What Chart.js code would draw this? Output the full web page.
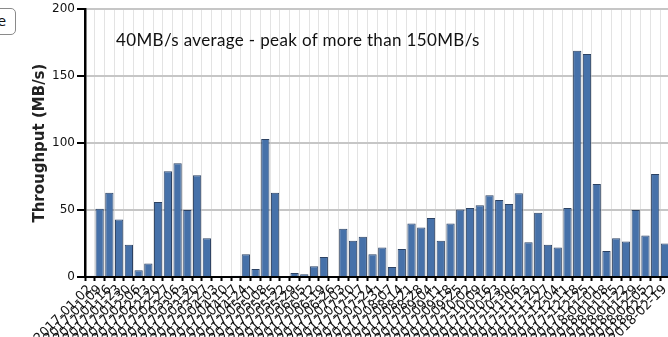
<!DOCTYPE html>
<html>
<head>
<meta charset="utf-8">
<script src="https://cdn.jsdelivr.net/npm/chart.js@4/dist/chart.umd.min.js"></script>
<style>
  html, body { margin: 0; padding: 0; background: #fff; overflow: hidden; }
  #wrap { position: relative; width: 668px; height: 337px; overflow: hidden; }
  #box { position: absolute; left: 0; top: 0; width: 677px; height: 337px; }
  .btn {
    position: absolute; left: -35px; top: 8px; width: 40px; height: 25px;
    border: 1.5px solid #8a8a8a; border-radius: 5px; background: #fff;
    font: 14px "DejaVu Sans", sans-serif; line-height: 25px; text-align: right;
    padding-right: 9px; color: #111;
  }
  .note {
    position: absolute; left: 116px; top: 29px; white-space: nowrap;
    font: 17px Lato, sans-serif; color: #111; letter-spacing: 0.35px;
  }
</style>
</head>
<body>
<div id="wrap">
  <div id="box"><canvas id="throughputChart" width="677" height="337"></canvas></div>
  <div class="btn">Save</div>
  <div class="note">40MB/s average - peak of more than 150MB/s</div>
</div>
<script>
// weekly throughput figures
var weeks = [
  "2017-01-02", "2017-01-09", "2017-01-16", "2017-01-23", "2017-01-30",
  "2017-02-06", "2017-02-13", "2017-02-20", "2017-02-27", "2017-03-06",
  "2017-03-13", "2017-03-20", "2017-03-27", "2017-04-03", "2017-04-10",
  "2017-04-17", "2017-04-24", "2017-05-01", "2017-05-08", "2017-05-15",
  "2017-05-22", "2017-05-29", "2017-06-05", "2017-06-12", "2017-06-19",
  "2017-06-26", "2017-07-03", "2017-07-10", "2017-07-17", "2017-07-24",
  "2017-07-31", "2017-08-07", "2017-08-14", "2017-08-21", "2017-08-28",
  "2017-09-04", "2017-09-11", "2017-09-18", "2017-09-25", "2017-10-02",
  "2017-10-09", "2017-10-16", "2017-10-23", "2017-10-30", "2017-11-06",
  "2017-11-13", "2017-11-20", "2017-11-27", "2017-12-04", "2017-12-11",
  "2017-12-18", "2017-12-25", "2018-01-01", "2018-01-08", "2018-01-15",
  "2018-01-22", "2018-01-29", "2018-02-05", "2018-02-12", "2018-02-19"
];

var throughput = [
  1, 51, 63, 43, 24, 5, 10, 56, 79, 85,
  50, 76, 29, 0, 0, 1, 17, 6, 103, 63,
  0, 3, 2, 8, 15, 0, 36, 27, 30, 17,
  22, 7.5, 21, 40, 37, 44, 27, 40, 50.5, 51.5,
  53.5, 61, 57.5, 54.5, 62.5, 26, 48, 24, 22, 51.5,
  169, 166.5, 69.5, 19.5, 29, 26.5, 50, 31, 77, 25
];

var yTicks = [0, 50, 100, 150, 200];

var ctx = document.getElementById("throughputChart").getContext("2d");
var chart = new Chart(ctx, {
  type: "bar",
  data: {
    labels: weeks,
    datasets: [{
      label: "Throughput",
      data: throughput,
      backgroundColor: "#4671a9",
      borderColor: "#2c4263",
      borderWidth: 1,
      barPercentage: 0.85,
      categoryPercentage: 1.0
    }]
  },
  options: {
    responsive: false,
    animation: false,
    devicePixelRatio: 1,
    layout: { padding: { left: 0, right: 2, top: 4, bottom: 0 } },
    plugins: {
      legend: { display: false },
      tooltip: { enabled: false }
    },
    scales: {
      x: {
        afterFit: function (scale) { scale.height = 60; },
        grid: {
          color: "#e3e3e3",
          lineWidth: 1,
          tickColor: "#000",
          tickWidth: 2,
          tickLength: 4
        },
        border: { color: "#000", width: 2 },
        ticks: {
          autoSkip: false,
          maxRotation: 45,
          minRotation: 45,
          padding: 1,
          color: "#111",
          font: { family: "DejaVu Sans", size: 13 }
        }
      },
      y: {
        min: 0,
        max: 200,
        afterFit: function (scale) { scale.width = 85; },
        afterBuildTicks: function (scale) {
          scale.ticks = yTicks.map(function (v) { return { value: v }; });
        },
        grid: {
          color: "#c6c6c6",
          lineWidth: 2,
          tickColor: "#000",
          tickWidth: 2,
          tickLength: 8
        },
        border: { color: "#000", width: 2.5 },
        ticks: {
          padding: 2,
          color: "#111",
          font: { family: "DejaVu Sans", size: 12 }
        },
        title: {
          display: true,
          text: "Throughput (MB/s)",
          color: "#222",
          padding: { top: 31, bottom: 0 },
          font: { family: "DejaVu Sans", size: 15, weight: "bold" }
        }
      }
    }
  }
});
</script>
</body>
</html>
